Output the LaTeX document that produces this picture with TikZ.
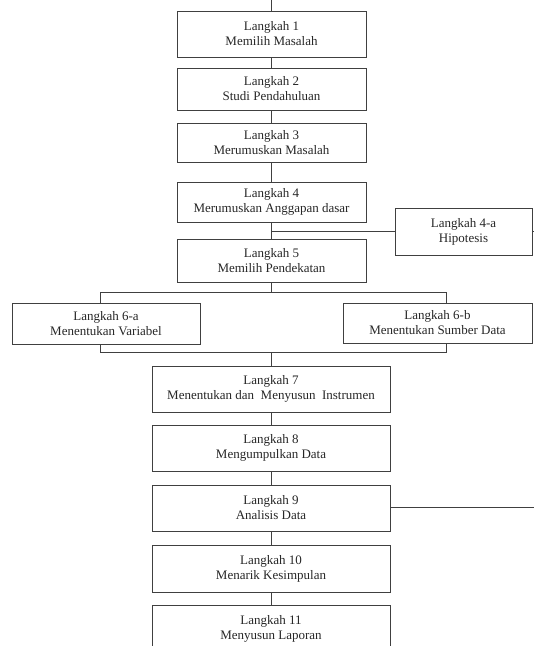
\documentclass[tikz,border=0pt]{standalone}
\usepackage{fontspec}
\setmainfont{Liberation Serif}
\usepackage{tikz}
\usetikzlibrary{positioning, calc}
\tikzset{
	langkah/.style={
		draw=black!75,
		line width=1pt,
		rectangle,
		inner sep=0pt,
		align=center,
		text=black!85,
		font=\fontsize{13}{15}\selectfont
	},
	alur/.style={
		draw=black!75,
		line width=1pt
	}
}

\begin{document}
\begin{tikzpicture}[x=1pt, y=-1pt]
	\clip (0,0) rectangle (534,646);
	
	% main column, steps 1-5
	\begin{scope}[every node/.style={langkah, minimum width=189pt}]
	\node (s1) at (271.5,34) [minimum height=46pt] {Langkah 1\\Memilih Masalah};
	\node (s2) at (271.5,89) [minimum height=42pt] {Langkah 2\\Studi Pendahuluan};
	\node (s3) at (271.5,142.5) [minimum height=39pt] {Langkah 3\\Merumuskan Masalah};
	\node (s4) at (271.5,202) [minimum height=40pt] {Langkah 4\\Merumuskan Anggapan dasar};
	\node (s5) at (271.5,260.5) [minimum height=43pt] {Langkah 5\\Memilih Pendekatan};
	\end{scope}
	
	% side step 4-a
	\node[langkah, minimum width=137pt, minimum height=47pt] (s4a) at (463.5,231.5) {Langkah 4-a\\Hipotesis};
	
	% branch steps 6-a and 6-b
	\node[langkah, minimum width=188pt, minimum height=41pt] (s6a) at (106,323.5) {Langkah 6-a\\Menentukan Variabel};
	\node[langkah, minimum width=189pt, minimum height=40pt] (s6b) at (437.5,323) {Langkah 6-b\\Menentukan Sumber Data};
	
	% main column, steps 7-11
	\begin{scope}[every node/.style={langkah, minimum width=238pt, minimum height=46pt}]
	\node (s7) at (271,389) {Langkah 7\\Menentukan dan\enspace Menyusun\enspace Instrumen};
	\node (s8) at (271,448) {Langkah 8\\Mengumpulkan Data};
	\node (s9) at (271,508) {Langkah 9\\Analisis Data};
	\node (s10) at (271,568.5) [minimum height=47pt] {Langkah 10\\Menarik Kesimpulan};
	\node (s11) at (271,629) [minimum height=48pt] {Langkah 11\\Menyusun Laporan};
	\end{scope}
	
	% free ends
	\coordinate (start) at (271.5,0);
	\coordinate (hipend) at (534,231.5);
	\coordinate (anend) at (534,507);
	\coordinate (splitL) at (100,292);
	\coordinate (splitR) at (446,292);
	\coordinate (joinL) at (100,352);
	\coordinate (joinR) at (446,352);
	
	% connectors
	\begin{scope}[alur]
	\draw (start) -- (s1.north);
	\foreach \a/\b in {s1/s2, s2/s3, s3/s4, s4/s5, s7/s8, s8/s9, s9/s10, s10/s11} {
		\draw (\a.south) -- (\b.north);
	}
	\draw (s4.south |- s4a.west) -- (s4a.west);
	\draw (s4a.east) -- (hipend);
	\draw (s9.east |- anend) -- (anend);
	
	% split to 6-a / 6-b and join again
	\draw (s5.south) -- (s5.south |- splitL);
	\draw (splitL |- s6a.north) -- (splitL) -- (splitR) -- (splitR |- s6b.north);
	\draw (joinL |- s6a.south) -- (joinL) -- (joinR) -- (joinR |- s6b.south);
	\draw (s7.north |- joinL) -- (s7.north);
	\end{scope}
\end{tikzpicture}
\end{document}
